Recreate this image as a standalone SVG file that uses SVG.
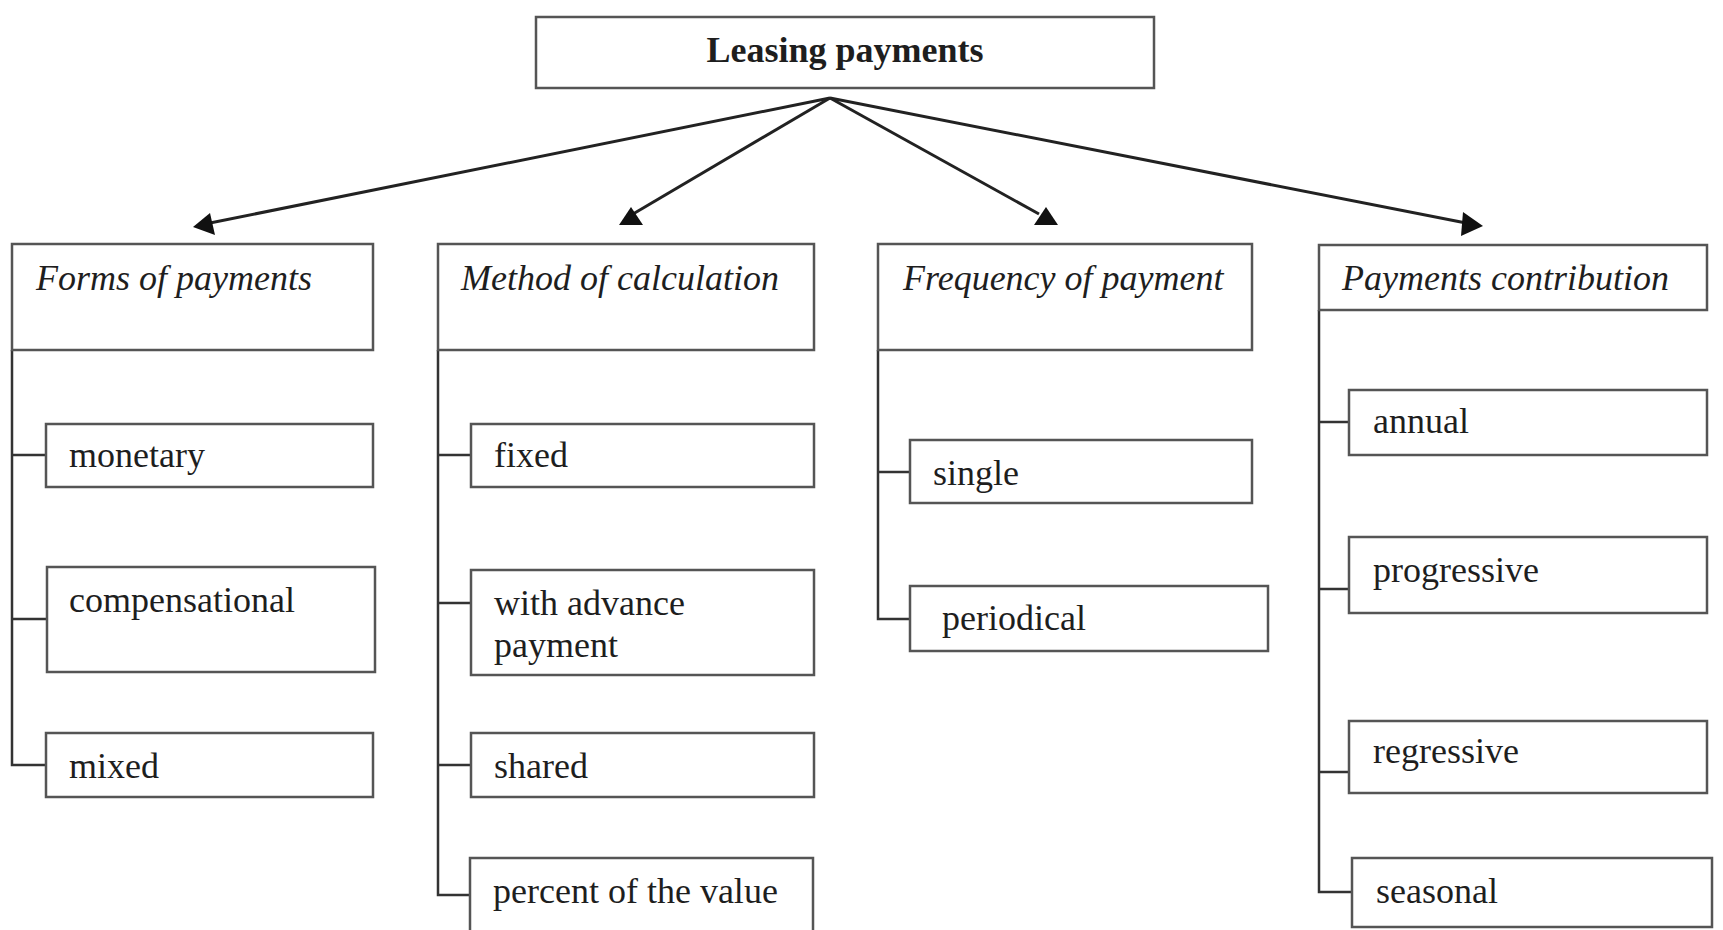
<svg xmlns="http://www.w3.org/2000/svg" width="1723" height="930" viewBox="0 0 1723 930">
<style>
.box{fill:#fff;stroke:#555;stroke-width:2.5}
.t{font-family:"Liberation Serif","Times New Roman",serif;font-size:36px;fill:#1e1e1e}
.h{font-style:italic}
.b{font-weight:bold}
.ln{fill:none;stroke:#333;stroke-width:2.5}
.ar{fill:none;stroke:#222;stroke-width:3}
.hd{fill:#111}
</style>
<rect width="1723" height="930" fill="#fff"/>
<g id="connectors">
<line class="ar" x1="830" y1="98" x2="205" y2="224"/>
<polygon class="hd" points="193,227 210,213 215,235"/>
<line class="ar" x1="830" y1="98" x2="633" y2="214"/>
<polygon class="hd" points="619,225 643,225 631,207"/>
<line class="ar" x1="830" y1="98" x2="1039" y2="214"/>
<polygon class="hd" points="1034,225 1058,225 1046,207"/>
<line class="ar" x1="830" y1="98" x2="1466" y2="223"/>
<polygon class="hd" points="1483,226 1463,212 1461,236"/>
<path class="ln" d="M12,350 V765 H46 M12,455 H46 M12,619 H47"/>
<path class="ln" d="M438,350 V895 H471 M438,455 H471 M438,603 H471 M438,765 H471"/>
<path class="ln" d="M878,350 V619 H910 M878,472 H910"/>
<path class="ln" d="M1319,310 V892 H1352 M1319,422 H1349 M1319,589 H1349 M1319,772 H1349"/>
</g>
<g id="root"><rect class="box" x="536" y="17" width="618" height="71"/><text class="t b" x="845" y="62" text-anchor="middle">Leasing payments</text></g>
<g id="forms"><rect class="box" x="12" y="244" width="361" height="106"/><text class="t h" x="36" y="290">Forms of payments</text></g>
<g id="method"><rect class="box" x="438" y="244" width="376" height="106"/><text class="t h" x="461" y="290">Method of calculation</text></g>
<g id="frequency"><rect class="box" x="878" y="244" width="374" height="106"/><text class="t h" x="903" y="290">Frequency of payment</text></g>
<g id="contribution"><rect class="box" x="1319" y="245" width="388" height="65"/><text class="t h" x="1342" y="290">Payments contribution</text></g>
<g id="monetary"><rect class="box" x="46" y="424" width="327" height="63"/><text class="t" x="69" y="467">monetary</text></g>
<g id="compensational"><rect class="box" x="47" y="567" width="328" height="105"/><text class="t" x="69" y="612">compensational</text></g>
<g id="mixed"><rect class="box" x="46" y="733" width="327" height="64"/><text class="t" x="69" y="778">mixed</text></g>
<g id="fixed"><rect class="box" x="471" y="424" width="343" height="63"/><text class="t" x="494" y="467">fixed</text></g>
<g id="advance"><rect class="box" x="471" y="570" width="343" height="105"/><text class="t" x="494" y="615">with advance</text><text class="t" x="494" y="657">payment</text></g>
<g id="shared"><rect class="box" x="471" y="733" width="343" height="64"/><text class="t" x="494" y="778">shared</text></g>
<g id="percent"><rect class="box" x="470" y="858" width="343" height="80"/><text class="t" x="493" y="903">percent of the value</text></g>
<g id="single"><rect class="box" x="910" y="440" width="342" height="63"/><text class="t" x="933" y="485">single</text></g>
<g id="periodical"><rect class="box" x="910" y="586" width="358" height="65"/><text class="t" x="942" y="630">periodical</text></g>
<g id="annual"><rect class="box" x="1349" y="390" width="358" height="65"/><text class="t" x="1373" y="433">annual</text></g>
<g id="progressive"><rect class="box" x="1349" y="537" width="358" height="76"/><text class="t" x="1373" y="582">progressive</text></g>
<g id="regressive"><rect class="box" x="1349" y="721" width="358" height="72"/><text class="t" x="1373" y="763">regressive</text></g>
<g id="seasonal"><rect class="box" x="1352" y="858" width="360" height="69"/><text class="t" x="1376" y="903">seasonal</text></g>
</svg>
